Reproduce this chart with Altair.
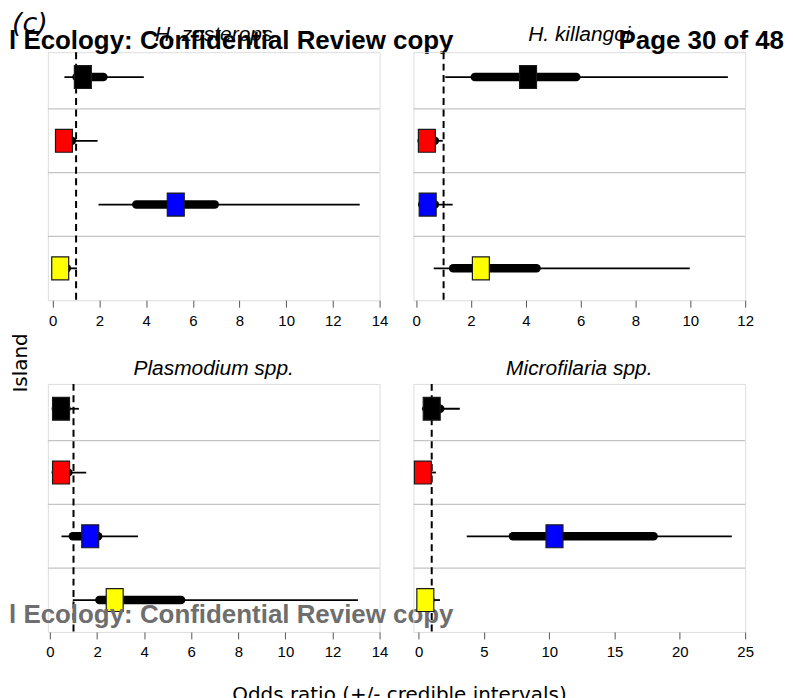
import altair as alt
import pandas as pd

# ---------------- data ----------------
islands = ["Island 1", "Island 2", "Island 3", "Island 4"]
row_pos = [4, 3, 2, 1]
island_colors = ["#000000", "#FF0000", "#0000FF", "#FFFF00"]

panel_titles = ["H. zosterops", "H. killangoi", "Plasmodium spp.", "Microfilaria spp."]

# H. zosterops
zost_med = [1.29, 0.48, 5.27, 0.32]
zost_lo95 = [0.50, 0.15, 1.96, 0.05]
zost_hi95 = [3.90, 1.92, 13.15, 1.04]
zost_lo50 = [1.02, 0.30, 3.58, 0.15]
zost_hi50 = [2.17, 0.82, 6.94, 0.60]

# H. killangoi
kill_med = [4.08, 0.39, 0.42, 2.36]
kill_lo95 = [1.06, 0.08, 0.10, 0.64]
kill_hi95 = [11.37, 0.97, 1.33, 9.98]
kill_lo50 = [2.14, 0.20, 0.22, 1.35]
kill_hi50 = [5.84, 0.68, 0.68, 4.39]

# Plasmodium spp.
plas_med = [0.47, 0.47, 1.71, 2.75]
plas_lo95 = [0.10, 0.10, 0.49, 0.97]
plas_hi95 = [1.23, 1.54, 3.74, 13.08]
plas_lo50 = [0.25, 0.25, 0.97, 2.10]
plas_hi50 = [0.70, 0.78, 2.05, 5.57]

# Microfilaria spp.
micr_med = [1.00, 0.32, 10.40, 0.51]
micr_lo95 = [0.25, 0.05, 3.68, 0.10]
micr_hi95 = [3.15, 1.32, 23.98, 1.63]
micr_lo50 = [0.60, 0.15, 7.22, 0.30]
micr_hi50 = [1.65, 0.70, 17.99, 0.90]

ticks_tl = [0, 2, 4, 6, 8, 10, 12, 14]
ticks_tr = [0, 2, 4, 6, 8, 10, 12]
ticks_bl = [0, 2, 4, 6, 8, 10, 12, 14]
ticks_br = [0, 5, 10, 15, 20, 25]

separators = [1.5, 2.5, 3.5]
reference_value = [1]

header_left = ["l Ecology: Confidential Review copy"]
header_right = ["Page 30 of 48"]
panel_label = ["(c)"]
watermark = ["l Ecology: Confidential Review copy"]
y_title = ["Island"]
x_title = ["Odds ratio (+/- credible intervals)"]

# ---------------- styling ----------------
W, H = 333, 249
Y_DOMAIN = [0.5, 4.39]
BOX_SHAPE = "M-0.74,-1L0.74,-1L0.74,1L-0.74,1Z"


def label(text, x, y, **kw):
    return alt.Chart(pd.DataFrame({"t": text})).mark_text(**kw).encode(
        text="t:N", x=alt.value(x), y=alt.value(y))


def panel(title, med, lo95, hi95, lo50, hi50, domain, ticks, title_y, extras=()):
    df = pd.DataFrame({
        "island": islands, "row": row_pos, "color": island_colors,
        "med": med, "lo95": lo95, "hi95": hi95, "lo50": lo50, "hi50": hi50,
    })
    xscale = alt.Scale(domain=domain, nice=False, zero=False)
    yscale = alt.Scale(domain=Y_DOMAIN, nice=False, zero=False)
    xaxis = alt.Axis(values=ticks, title=None, grid=False, domain=False,
                     tickSize=7, tickColor="#555555", tickWidth=1,
                     labelFont="Liberation Sans", labelFontSize=15,
                     labelColor="#000000", labelPadding=6, labelFlush=False)

    base = alt.Chart(df)
    seps = alt.Chart(pd.DataFrame({"s": separators})).mark_rule(
        color="#c4c4c4", strokeWidth=1.3
    ).encode(y=alt.Y("s:Q", scale=yscale, axis=None))
    ref = alt.Chart(pd.DataFrame({"r": reference_value})).mark_rule(
        color="#000000", strokeWidth=2, strokeDash=[7, 4.5]
    ).encode(x=alt.X("r:Q", scale=xscale, axis=xaxis))
    thin = base.mark_rule(color="#000000", strokeWidth=1.8).encode(
        x=alt.X("lo95:Q", scale=xscale, axis=xaxis), x2="hi95:Q",
        y=alt.Y("row:Q", scale=yscale, axis=None))
    thick = base.mark_rule(color="#000000", strokeWidth=8.5, strokeCap="round").encode(
        x=alt.X("lo50:Q", scale=xscale, axis=xaxis), x2="hi50:Q",
        y=alt.Y("row:Q", scale=yscale, axis=None))
    boxes = base.mark_point(shape=BOX_SHAPE, size=529, filled=True, opacity=1,
                            stroke="#1a1a1a", strokeWidth=1.2).encode(
        x=alt.X("med:Q", scale=xscale, axis=xaxis),
        y=alt.Y("row:Q", scale=yscale, axis=None),
        fill=alt.Fill("color:N", scale=None))
    ttl = label([title], W / 2, title_y, font="Liberation Sans", fontSize=21,
                fontStyle="italic", align="center", baseline="alphabetic",
                color="#000000")
    layers = [seps, ref, thin, thick, boxes, ttl] + list(extras)
    return alt.layer(*layers).properties(width=W, height=H)


tl_extras = [
    label(panel_label, -36, -20.5, font="DejaVu Sans", fontSize=27, fontStyle="italic",
          align="left", baseline="alphabetic", color="#000000"),
    label(header_left, -39, -3, font="Liberation Sans", fontSize=26, fontWeight="bold",
          align="left", baseline="alphabetic", color="#000000"),
]
tr_extras = [
    label(header_right, 372, -3, font="Liberation Sans", fontSize=26, fontWeight="bold",
          align="right", baseline="alphabetic", color="#000000"),
]
bl_extras = [
    label(watermark, -39, 240, font="Liberation Sans", fontSize=26, fontWeight="bold",
          align="left", baseline="alphabetic", color="#6e6e6e"),
    label(y_title, -27, -21, font="DejaVu Sans", fontSize=20, angle=270,
          align="center", baseline="middle", color="#000000"),
    label(x_title, 353, 318, font="DejaVu Sans", fontSize=20,
          align="center", baseline="alphabetic", color="#000000"),
]

tl = panel(panel_titles[0], zost_med, zost_lo95, zost_hi95, zost_lo50, zost_hi50,
           [-0.21, 14], ticks_tl, -11, tl_extras)
tr = panel(panel_titles[1], kill_med, kill_lo95, kill_hi95, kill_lo50, kill_hi50,
           [-0.1, 12], ticks_tr, -11, tr_extras)
bl = panel(panel_titles[2], plas_med, plas_lo95, plas_hi95, plas_lo50, plas_hi50,
           [-0.09, 14], ticks_bl, -9, bl_extras)
br = panel(panel_titles[3], micr_med, micr_lo95, micr_hi95, micr_lo50, micr_hi50,
           [-0.4, 25], ticks_br, -9)

chart = alt.concat(tl, tr, bl, br, columns=2,
                   spacing={"row": 84, "column": 34}, bounds="flush").properties(
    padding={"left": 0, "top": 0, "right": 0, "bottom": 0}
).configure_view(stroke="#c4c4c4", strokeWidth=1.2).configure(background="#ffffff")

chart.save("out.html", embed_options={"renderer": "svg", "actions": False})
